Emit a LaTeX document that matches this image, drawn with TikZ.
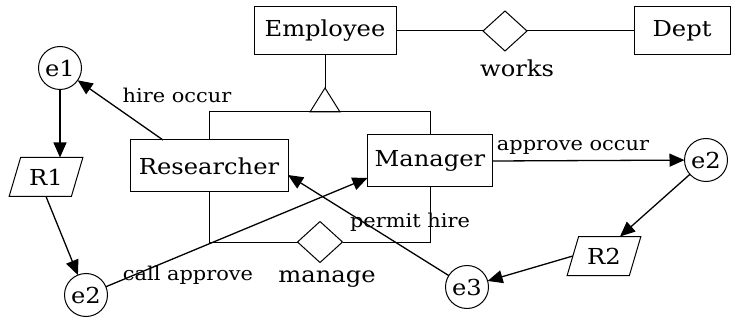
\documentclass[tikz,border=0pt]{standalone}
\usepackage{fontspec}
\setmainfont{DejaVu Serif}[FakeStretch=1.1]
\usetikzlibrary{shapes.geometric,arrows.meta}
\begin{document}
\begin{tikzpicture}[x=1pt,y=-1pt,
  every node/.style={inner sep=0pt,outer sep=0pt},
  big/.style={font=\fontsize{22}{24}\selectfont},
  lab/.style={font=\fontsize{19}{21}\selectfont,anchor=base},
  ent/.style={draw,line width=1pt,rectangle,big},
  rel/.style={draw,line width=1pt,diamond,minimum width=44pt,minimum height=40pt},
  ev/.style={draw,line width=1pt,circle,minimum size=43pt,big},
  resv/.style={draw,line width=1pt,trapezium,trapezium left angle=65,trapezium right angle=115,
     trapezium stretches=true,minimum width=74pt,minimum height=39pt,big},
  arr/.style={line width=1.3pt,-{Triangle[length=15pt,width=13pt]}},
  ln/.style={line width=1pt}]
\useasboundingbox (0,0) rectangle (736,323);
% entities
\node[ent,minimum width=142pt,minimum height=48pt] (emp) at (325,31) {Employee};
\node[ent,minimum width=96pt,minimum height=48pt] (dept) at (682,31) {Dept};
\node[ent,minimum width=158pt,minimum height=52pt] (res) at (209,166) {Researcher};
\node[ent,minimum width=125pt,minimum height=52pt] (mgr) at (430,161) {Manager};
% relationships
\node[rel] (works) at (505,31) {};
\node[rel,minimum width=45pt,minimum height=41pt] (manage) at (320,242) {};
\node[lab,big] (workslab) at (517,77) {works};
\node[lab,big] (managelab) at (327,282) {manage};
% generalisation
\coordinate (apex) at (325,88);
\coordinate (tl) at (310,112);
\coordinate (tr) at (340,112);
\draw[ln] (emp.east) -- (works.west);
\draw[ln] (works.east) -- (dept.west);
\draw[ln] (emp.south) -- (apex);
\draw[ln] (apex) -- (tl) -- (tr) -- cycle;
\draw[ln] (res.north) -- (res.north |- tl) -- (mgr.north |- tl) -- (mgr.north);
\draw[ln] (res.south) |- (manage.west);
\draw[ln] (manage.east) -| (mgr.south);
% events and rules
\node[ev] (e1) at (60,68) {e1};
\node[ev] (e2l) at (86,295) {e2};
\node[ev] (e2r) at (706,160) {e2};
\node[ev] (e3) at (467,287) {e3};
\node[resv] (r1) at (46,177) {R1};
\node[resv] (r2) at (604,256) {R2};
% connectors
\draw[arr] ([xshift=-46pt]res.north) -- (e1);
\draw[arr] (e1) -- (e1 |- r1.north);
\draw[arr] (r1.south) -- (e2l);
\draw[arr] (e2l) -- ([yshift=-17pt]mgr.west);
\draw[arr] (mgr.east) -- (e2r);
\draw[arr] (e2r) -- ([xshift=16pt]r2.north);
\draw[arr] (r2.west) -- (e3);
\draw[arr] (e3) -- ([yshift=-9pt]res.east);
% labels
\node[lab] (l1) at (177,103) {hire occur};
\node[lab] (l2) at (573,151) {approve occur};
\node[lab] (l3) at (188,280) {call approve};
\node[lab] (l4) at (410,227) {permit hire};
\end{tikzpicture}
\end{document}
